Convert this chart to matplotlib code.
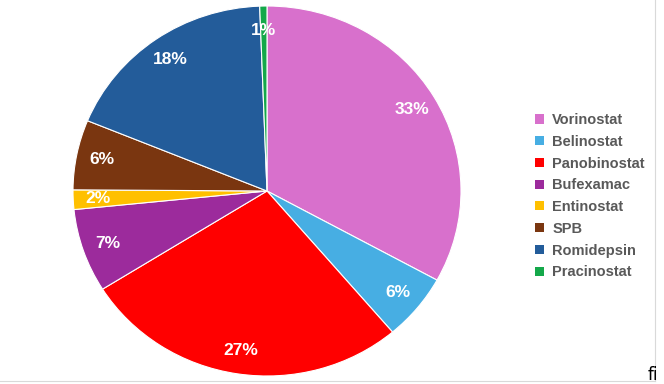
import matplotlib
matplotlib.use("Agg")
import matplotlib.pyplot as plt
from matplotlib.lines import Line2D
from matplotlib.patches import Patch

drugs = ["Vorinostat", "Belinostat", "Panobinostat", "Bufexamac",
         "Entinostat", "SPB", "Romidepsin", "Pracinostat"]
shares = [33.0, 5.8, 27.3, 7.3, 1.7, 6.1, 18.2, 0.6]
colors = ["#D870CC", "#47AEE3", "#FF0000", "#9C2B9C",
          "#FFC000", "#7A3610", "#235C9A", "#14A84A"]

W, H = 664, 384
fig = plt.figure(figsize=(W / 100, H / 100), dpi=100)
fig.patch.set_facecolor("white")
plt.rcParams['font.family'] = ['Liberation Sans', 'DejaVu Sans']

ax = fig.add_axes([73 / W, (H - 376) / H, 388 / W, 370 / H])
wedges, texts, autotexts = ax.pie(
    shares, colors=colors, startangle=90, counterclock=False,
    autopct=lambda p: f"{p:.0f}%", pctdistance=0.87,
    wedgeprops=dict(edgecolor="white", linewidth=0.8),
    textprops=dict(color="white", fontsize=12.5, fontweight="bold"))
ax.set_aspect("auto")
ax.set_xlim(-1, 1)
ax.set_ylim(-1, 1)
ax.axis("off")

handles = [Patch(facecolor=c, edgecolor="none") for c in colors]
leg = fig.legend(handles, drugs, loc="upper left",
                 bbox_to_anchor=(522 / W, 1 - 100 / H),
                 frameon=False, handlelength=0.58, handleheight=0.58,
                 handletextpad=0.6, labelspacing=0.53, fontsize=10.5)
for t in leg.get_texts():
    t.set_color("#595959")
    t.set_fontweight("bold")

fig.add_artist(Line2D([655 / W, 655 / W], [1 - 381 / H, 1], transform=fig.transFigure,
                      color="#D9D9D9", linewidth=0.8))
fig.add_artist(Line2D([0, 655 / W], [1 - 381 / H, 1 - 381 / H], transform=fig.transFigure,
                      color="#D9D9D9", linewidth=0.8))
fig.text(648 / W, 1 - 384 / H, "fi", fontsize=12, color="black", ha="left", va="bottom",
         family=["DejaVu Sans"])

fig.savefig("out.png", dpi=100, facecolor="white")
